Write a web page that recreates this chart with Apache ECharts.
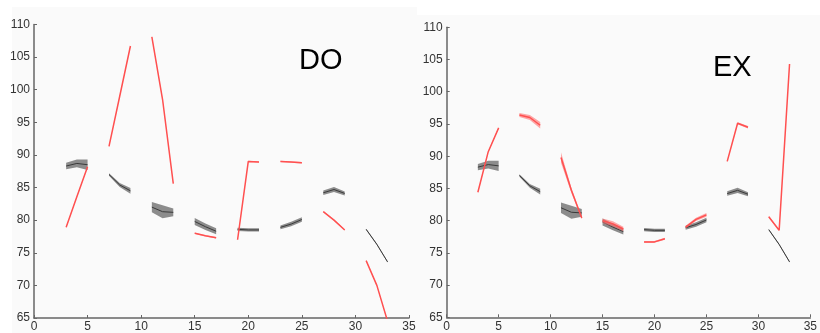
<!DOCTYPE html>
<html>
<head>
<meta charset="utf-8">
<script src="https://cdn.jsdelivr.net/npm/echarts@6/dist/echarts.min.js"></script>
<style>html,body{margin:0;padding:0;background:#fff}#c{width:820px;height:333px}</style>
</head>
<body>
<div id="c"></div>
<script>
// x positions (segments of 3 points separated by gaps)
const xs = [3,4,5, 7,8,9, 11,12,13, 15,16,17, 19,20,21, 23,24,25, 27,28,29, 31,32,33];
const xTicks = [0,5,10,15,20,25,30,35];
const yTicks = [65,70,75,80,85,90,95,100,105,110];

// gray (reference) series, shared by both panels
const grayMean = [88.3,88.7,88.5, 87.0,85.4,84.5, 82.0,81.3,81.2, 79.8,79.0,78.3, 78.6,78.5,78.5, 78.9,79.4,80.1, 84.2,84.7,84.1, 78.6,76.3,73.6];
const grayHalf = [0.5,0.6,0.8, 0.2,0.3,0.45, 0.8,1.0,0.6, 0.55,0.5,0.45, 0.25,0.25,0.25, 0.3,0.35,0.35, 0.35,0.4,0.3, 0.1,0.1,0.1];

// DO red series
const doMean = [78.9,83.6,88.2, 91.3,99.0,106.7, 108.1,98.5,85.6, 78.0,77.6,77.3, 77.0,89.0,88.9, 89.0,88.9,88.8, 81.3,80.0,78.5, 73.8,70.0,64.5];
const doHalf = [0.1,0.1,0.1, 0.1,0.1,0.1, 0.15,0.15,0.1, 0.1,0.1,0.1, 0.1,0.1,0.1, 0.1,0.1,0.1, 0.1,0.1,0.1, 0.1,0.1,0.1];

// EX red series
const exMean = [84.4,90.7,94.4, 96.4,96.0,94.8, 89.8,84.7,80.4, 80.0,79.5,78.7, 76.7,76.7,77.2, 79.0,80.2,80.9, 89.2,95.1,94.5, 80.6,78.5,104.3];
const exHalf = [0.1,0.1,0.1, 0.3,0.4,0.5, 0.8,0.4,0.2, 0.35,0.4,0.35, 0.15,0.15,0.15, 0.2,0.25,0.3, 0.1,0.15,0.2, 0.15,0.1,0.1];

const chart = echarts.init(document.getElementById('c'));

function lineData(mean){
  const out = [];
  for (let i=0;i<xs.length;i++){
    if (i>0 && xs[i]-xs[i-1]>1) out.push([xs[i-1]+1,'-']);
    out.push([xs[i], mean[i]]);
  }
  return out;
}
function segments(){
  const segs=[]; let start=0;
  for (let i=1;i<=xs.length;i++){
    if (i===xs.length || xs[i]-xs[i-1]>1){ segs.push([start,i-1]); start=i; }
  }
  return segs;
}
const segs = segments();
function bandSeries(gi, mean, half, color, z){
  return {
    type:'custom', xAxisIndex:gi, yAxisIndex:gi, z:z, silent:true, clip:true,
    data: segs.map((s,k)=>[k]),
    renderItem: function(params, api){
      const s = segs[api.value(0)];
      const pts=[];
      for (let i=s[0];i<=s[1];i++) pts.push(api.coord([xs[i], mean[i]+half[i]]));
      for (let i=s[1];i>=s[0];i--) pts.push(api.coord([xs[i], mean[i]-half[i]]));
      return {type:'polygon', shape:{points:pts}, style:{fill:color}};
    }
  };
}
function lineSeries(gi, mean, color, width, z){
  return {type:'line', xAxisIndex:gi, yAxisIndex:gi, data: lineData(mean), connectNulls:false,
    showSymbol:false, symbol:'none', z:z, silent:true, clip:true,
    lineStyle:{color:color, width:width}};
}
const grids = [
  {left:34, top:24.5, width:375, height:295},
  {left:446.7, top:27.3, width:368, height:290}
];
function xAxis(gi){
  return {type:'value', gridIndex:gi, min:0, max:35, interval:5,
    axisLine:{lineStyle:{color:'#666', width:1.5}},
    axisTick:{inside:true, length:3, lineStyle:{color:'#666'}},
    axisLabel:{color:'#333', fontSize:12, margin:3, fontFamily:'Liberation Sans'},
    splitLine:{show:false}};
}
function yAxis(gi){
  return {type:'value', gridIndex:gi, min:65, max:110, interval:5,
    axisLine:{show:true, lineStyle:{color:'#666', width:1.5}},
    axisTick:{show:true, inside:true, length:3, lineStyle:{color:'#666'}},
    axisLabel:{color:'#333', fontSize:12, margin:4, fontFamily:'Liberation Sans'},
    splitLine:{show:false}};
}
const red='#ff5050', redBand='rgba(255,110,110,0.6)', grayLine='#3a3a3a', grayBand='rgba(120,120,120,0.85)';
chart.setOption({
  animation:false,
  graphic:[
    {type:'rect', shape:{x:12,y:7,width:405,height:326}, style:{fill:'#fafafa'}, z:-10},
    {type:'rect', shape:{x:417,y:15,width:403,height:318}, style:{fill:'#fafafa'}, z:-10},
    {type:'text', left:299, top:46, style:{text:'DO', fontSize:29, fill:'#000', fontFamily:'Liberation Sans'}},
    {type:'text', left:713, top:53, style:{text:'EX', fontSize:29, fill:'#000', fontFamily:'Liberation Sans'}}
  ],
  grid: grids,
  xAxis:[xAxis(0), xAxis(1)],
  yAxis:[yAxis(0), yAxis(1)],
  series:[
    bandSeries(0, grayMean, grayHalf, grayBand, 1),
    lineSeries(0, grayMean, grayLine, 1, 2),
    bandSeries(0, doMean, doHalf, redBand, 3),
    lineSeries(0, doMean, red, 1.5, 4),
    bandSeries(1, grayMean, grayHalf, grayBand, 1),
    lineSeries(1, grayMean, grayLine, 1, 2),
    bandSeries(1, exMean, exHalf, redBand, 3),
    lineSeries(1, exMean, red, 1.5, 4)
  ]
});
</script>
</body>
</html>
